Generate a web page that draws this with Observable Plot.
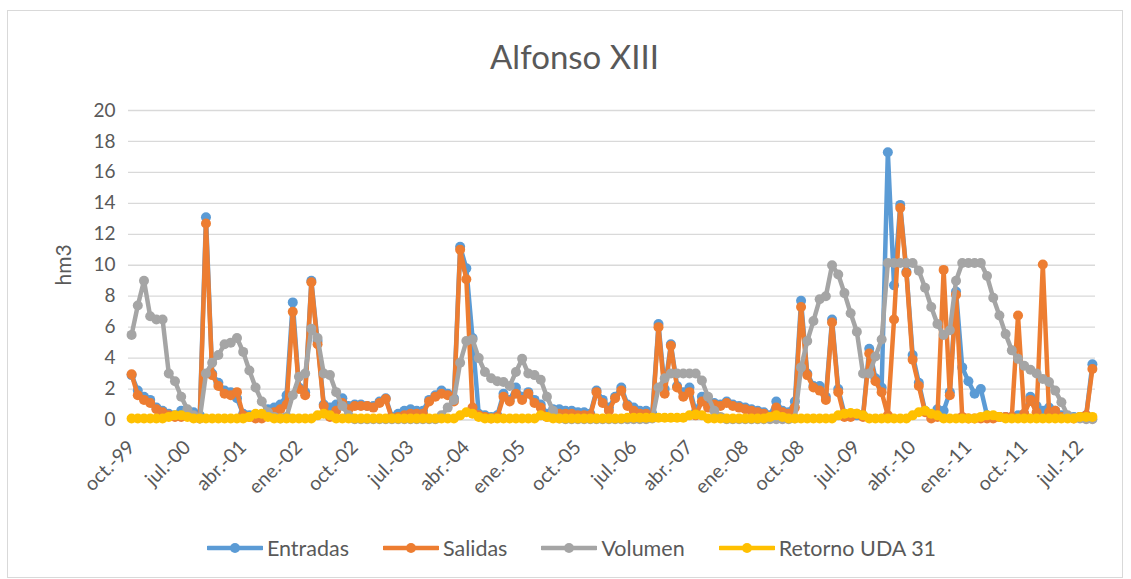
<!DOCTYPE html>
<html>
<head>
<meta charset="utf-8">
<script src="https://cdn.jsdelivr.net/npm/d3@7"></script>
<script src="https://cdn.jsdelivr.net/npm/@observablehq/plot@0.6"></script>
<style>
  body { margin: 0; background: #fff; font-family: Lato, "Open Sans", sans-serif; color: #595959; }
  #chart { position: relative; width: 1131px; height: 579px; overflow: hidden; background: #fff; }
  #frame { position: absolute; left: 7px; top: 10px; width: 1116px; height: 568px; border: 1px solid #d9d9d9; box-sizing: border-box; pointer-events: none; }
  #title { height: 90px; box-sizing: border-box; padding-top: 37px; padding-left: 18px; font-size: 33px; line-height: 38px; text-align: center; color: #595959; }
  #ylab { position: absolute; left: 62px; top: 265px; transform: translate(-50%, -50%) rotate(-90deg); font-size: 21px; color: #595959; white-space: nowrap; }
  #plot { height: 440px; }
  #legend { display: flex; justify-content: center; align-items: center; height: 30px; margin-top: 3px; padding-left: 12px; gap: 34px; font-size: 21.5px; color: #595959; }
  .item { display: flex; align-items: center; }
  .item span { margin-left: 4px; }
</style>
</head>
<body>
<div id="chart">
  <div id="frame"></div>
  <div id="title">Alfonso XIII</div>
  <div id="ylab">hm3</div>
  <div id="plot"></div>
  <div id="legend"></div>
</div>
<script>
// Month categories: oct.-99 .. sep.-12 (monthly)
const monthNames = ["ene.","feb.","mar.","abr.","may.","jun.","jul.","ago.","sep.","oct.","nov.","dic."];
const startYear = 1999, startMonth = 9, nMonths = 156;
const months = d3.range(nMonths).map(k => {
  const m = (startMonth + k) % 12;
  const y = startYear + Math.floor((startMonth + k) / 12);
  return monthNames[m] + "-" + String(y % 100).padStart(2, "0");
});
const tickLabels = months.filter((d, i) => i % 9 === 0);
const yTicks = [0, 2, 4, 6, 8, 10, 12, 14, 16, 18, 20];

const seriesNames = ["Entradas", "Salidas", "Volumen", "Retorno UDA 31"];
const seriesColors = ["#5B9BD5", "#ED7D31", "#A5A5A5", "#FFC000"];

// one row per hydrological year (oct..sep)
const entradas = [
  2.9,1.9,1.5,1.3,0.8,0.6,0.4,0.3,0.6,0.6,0.5,0.3,
  13.1,3.0,2.4,1.9,1.8,1.4,0.4,0.3,0.3,0.2,0.7,0.8,
  1.0,1.6,7.6,2.1,1.8,9.0,5.1,1.0,0.8,1.0,1.4,0.9,
  1.0,1.0,0.9,0.9,1.2,1.4,0.2,0.4,0.6,0.7,0.6,0.6,
  1.3,1.6,1.9,1.7,1.4,11.2,9.8,5.3,0.4,0.3,0.2,0.3,
  1.7,1.3,2.1,1.5,1.8,1.3,1.0,0.4,0.7,0.7,0.6,0.6,
  0.5,0.5,0.4,1.9,1.3,0.8,1.5,2.1,1.0,0.8,0.6,0.6,
  0.4,6.2,2.0,4.9,2.2,1.8,2.1,0.5,1.5,1.0,1.1,1.0,
  1.2,1.0,0.9,0.8,0.7,0.6,0.5,0.3,1.2,0.6,0.5,1.2,
  7.7,3.0,2.2,2.2,1.5,6.5,2.0,0.4,0.3,0.3,0.3,4.6,
  2.7,2.1,17.3,8.7,13.9,9.6,4.2,2.4,0.6,0.3,0.7,0.6,
  1.8,8.3,3.4,2.5,1.7,2.0,0.3,0.2,0.2,0.2,0.2,0.3,
  0.4,1.5,0.9,0.6,0.8,0.6,0.3,0.2,0.2,0.2,0.3,3.6
];
const salidas = [
  2.95,1.6,1.3,1.1,0.7,0.5,0.3,0.2,0.2,0.3,0.2,0.1,
  12.7,2.9,2.2,1.7,1.6,1.8,0.3,0.2,0.1,0.1,0.4,0.5,
  0.7,1.0,7.0,2.0,1.6,8.9,4.9,0.9,0.2,0.6,1.1,0.7,
  0.9,0.9,0.9,0.8,1.1,1.35,0.1,0.2,0.3,0.4,0.4,0.4,
  1.2,1.5,1.7,1.6,1.2,11.0,9.1,0.8,0.3,0.2,0.1,0.2,
  1.5,1.2,1.7,1.3,1.7,1.1,0.8,0.2,0.5,0.4,0.4,0.4,
  0.3,0.3,0.3,1.8,1.1,0.6,1.4,1.9,0.9,0.6,0.4,0.4,
  0.2,6.0,1.7,4.8,2.1,1.5,1.8,0.3,1.2,0.8,1.0,0.9,
  1.1,0.9,0.8,0.7,0.6,0.5,0.4,0.2,0.8,0.5,0.4,0.8,
  7.3,2.9,2.1,1.9,1.3,6.3,1.8,0.2,0.2,0.4,0.2,4.3,
  2.5,1.8,0.3,6.5,13.7,9.5,3.9,2.2,0.5,0.1,0.2,9.7,
  1.6,8.1,0.2,0.1,0.1,0.1,0.1,0.1,0.2,0.2,0.2,6.75,
  0.4,1.3,0.5,10.05,0.5,0.6,0.2,0.2,0.1,0.2,0.3,3.3
];
const volumen = [
  5.5,7.4,9.0,6.7,6.5,6.5,3.0,2.5,1.5,0.7,0.3,0.1,
  3.0,3.7,4.2,4.9,5.0,5.3,4.4,3.2,2.1,1.2,0.5,0.2,
  0.1,0.2,1.6,2.8,3.0,5.9,5.3,3.0,2.9,1.8,0.9,0.3,
  0.05,0.05,0.05,0.05,0.05,0.05,0.05,0.05,0.05,0.05,0.05,0.05,
  0.05,0.05,0.3,0.8,1.3,3.7,5.1,5.2,4.0,3.1,2.7,2.5,
  2.45,2.2,3.1,3.95,3.0,2.9,2.6,1.5,0.6,0.1,0.05,0.05,
  0.05,0.05,0.05,0.05,0.05,0.05,0.05,0.05,0.05,0.05,0.05,0.05,
  0.1,2.1,2.7,3.0,3.0,3.0,3.0,3.0,2.55,1.5,0.6,0.2,
  0.05,0.05,0.05,0.05,0.05,0.05,0.05,0.05,0.05,0.05,0.05,0.1,
  3.4,5.1,6.4,7.8,8.0,10.0,9.4,8.2,6.9,5.7,3.0,3.0,
  4.1,5.2,10.15,10.15,10.15,10.15,10.15,9.65,8.55,7.3,6.2,5.5,
  5.8,9.0,10.15,10.15,10.15,10.15,9.3,7.9,6.75,5.55,4.5,3.95,
  3.5,3.25,3.0,2.65,2.45,1.9,1.15,0.3,0.15,0.1,0.05,0.05
];
const retorno = [
  0.1,0.1,0.1,0.1,0.1,0.1,0.2,0.3,0.3,0.2,0.1,0.1,
  0.1,0.1,0.1,0.1,0.1,0.1,0.1,0.2,0.4,0.4,0.2,0.1,
  0.1,0.1,0.1,0.1,0.1,0.1,0.3,0.4,0.3,0.1,0.1,0.1,
  0.1,0.1,0.1,0.1,0.1,0.1,0.1,0.1,0.1,0.1,0.1,0.1,
  0.1,0.1,0.1,0.1,0.1,0.3,0.5,0.4,0.2,0.1,0.1,0.1,
  0.1,0.1,0.1,0.1,0.1,0.1,0.3,0.2,0.1,0.1,0.1,0.1,
  0.1,0.1,0.1,0.1,0.1,0.1,0.1,0.1,0.15,0.15,0.15,0.15,
  0.15,0.15,0.15,0.15,0.15,0.15,0.3,0.35,0.3,0.1,0.1,0.1,
  0.1,0.1,0.1,0.1,0.1,0.1,0.1,0.2,0.3,0.2,0.1,0.1,
  0.1,0.1,0.1,0.1,0.1,0.1,0.3,0.4,0.45,0.4,0.3,0.1,
  0.1,0.1,0.1,0.1,0.1,0.1,0.3,0.5,0.6,0.4,0.3,0.1,
  0.1,0.1,0.1,0.1,0.1,0.2,0.3,0.3,0.2,0.1,0.1,0.1,
  0.1,0.1,0.1,0.1,0.1,0.1,0.1,0.1,0.1,0.2,0.2,0.2
];

const seriesValues = [entradas, salidas, volumen, retorno];
const rowsFor = (vals, name) => vals.map((v, i) => ({mes: months[i], valor: v, serie: name}));

const seriesMarks = seriesNames.flatMap((name, s) => {
  const rows = rowsFor(seriesValues[s], name);
  return [
    Plot.line(rows, {x: "mes", y: "valor", stroke: seriesColors[s], strokeWidth: 4.5, strokeLinejoin: "round", strokeLinecap: "round"}),
    Plot.dot(rows, {x: "mes", y: "valor", r: 5, fill: seriesColors[s], stroke: "none"})
  ];
});

const chart = Plot.plot({
  width: 1131,
  height: 440,
  marginLeft: 128,
  marginRight: 36,
  marginTop: 20,
  marginBottom: 110.5,
  style: {fontFamily: "Lato, 'Open Sans', sans-serif", fontSize: "19px", color: "#595959", background: "transparent", overflow: "visible"},
  x: {type: "point", domain: months, padding: 0.5},
  y: {domain: [0, 20]},
  marks: [
    Plot.gridY(yTicks, {stroke: "#d9d9d9", strokeOpacity: 1, strokeWidth: 1.3}),
    Plot.axisY(yTicks, {tickSize: 0, tickPadding: 13, label: null, fontSize: 19, fill: "#595959"}),
    Plot.axisX(tickLabels, {tickSize: 0, tickPadding: 24, tickRotate: -45, label: null, fontSize: 19.5, fill: "#595959"}),
    ...seriesMarks
  ]
});
document.getElementById("plot").appendChild(chart);

// legend
const legend = d3.select("#legend");
seriesNames.forEach((name, s) => {
  const item = legend.append("div").attr("class", "item");
  const sw = item.append("svg").attr("width", 56).attr("height", 14);
  sw.append("line").attr("x1", 1).attr("x2", 55).attr("y1", 7).attr("y2", 7)
    .attr("stroke", seriesColors[s]).attr("stroke-width", 4.5).attr("stroke-linecap", "round");
  sw.append("circle").attr("cx", 28).attr("cy", 7).attr("r", 5).attr("fill", seriesColors[s]);
  item.append("span").text(name);
});
</script>
</body>
</html>
